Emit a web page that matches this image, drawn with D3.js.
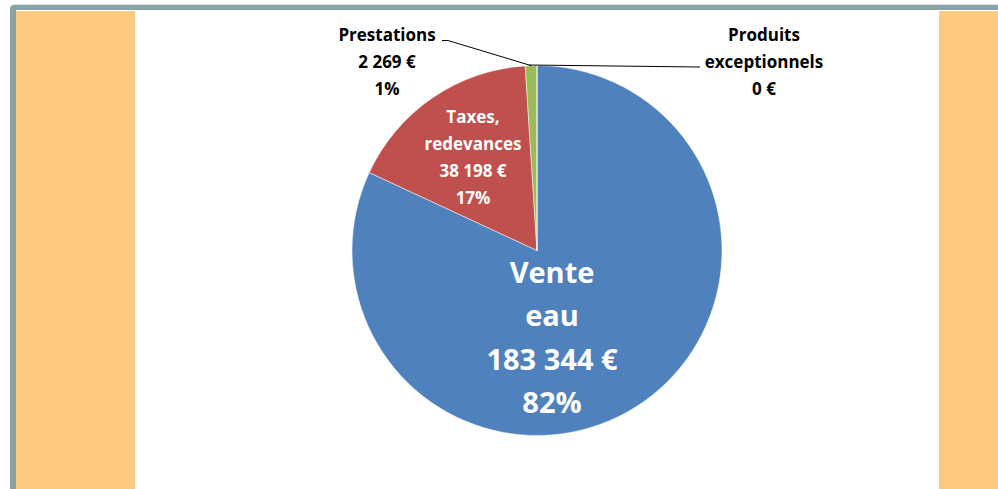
<!DOCTYPE html>
<html>
<head>
<meta charset="utf-8">
<script src="https://cdn.jsdelivr.net/npm/d3@7"></script>
<style>
  html, body { margin: 0; padding: 0; background: #fff; }
  svg { display: block; font-family: "Open Sans", sans-serif; }
</style>
</head>
<body>
<svg id="chart"></svg>
<script>
// Chart data
var categories = ["Vente eau", "Taxes, redevances", "Prestations", "Produits exceptionnels"];
var amounts = [183344, 38198, 2269, 0];
var amountLabels = ["183 344 €", "38 198 €", "2 269 €", "0 €"];
var percentLabels = ["82%", "17%", "1%", ""];

// Label text lines per slice
var labelLines = [
    ["Vente", "eau", amountLabels[0], percentLabels[0]],
    ["Taxes,", "redevances", amountLabels[1], percentLabels[1]],
    ["Prestations", amountLabels[2], percentLabels[2]],
    ["Produits", "exceptionnels", amountLabels[3]]
];

function CreatePieChart() {
    var svgWidth = 998;
    var svgHeight = 489;
    var cx = 537, cy = 250.5, radius = 185;

    var svg = d3.select('#chart')
        .attr('width', svgWidth)
        .attr('height', svgHeight);

    // Background panels and frame
    svg.append('rect')
        .attr('x', 135).attr('y', 10)
        .attr('width', 804).attr('height', svgHeight - 10)
        .attr('fill', '#ffffff');
    svg.append('rect')
        .attr('x', 16).attr('y', 11)
        .attr('width', 119).attr('height', svgHeight - 11)
        .attr('fill', '#fec981');
    svg.append('rect')
        .attr('x', 939).attr('y', 11)
        .attr('width', svgWidth - 939).attr('height', svgHeight - 11)
        .attr('fill', '#fec981');
    svg.append('path')
        .attr('d', 'M10,' + svgHeight + ' V9 Q10,5 14,5 H' + svgWidth + ' V10 H16 V' + svgHeight + ' Z')
        .attr('fill', '#89a3a5');
    svg.append('line')
        .attr('x1', 13).attr('x2', svgWidth)
        .attr('y1', 4.5).attr('y2', 4.5)
        .attr('stroke', '#dde3e4').attr('stroke-width', 1);

    var colors = d3.scaleOrdinal()
        .domain(categories)
        .range(['#4f81bd', '#c0504d', '#9bbb59', '#8064a2']);

    var pie = d3.pie().sort(null).value(function(d) { return d; });
    var arcs = pie(amounts);
    var arc = d3.arc().innerRadius(0).outerRadius(radius);

    var chartG = svg.append('g')
        .attr('transform', 'translate(' + [cx, cy] + ')');

    chartG.selectAll('.slice')
        .data(arcs)
        .enter()
        .append('path')
        .attr('class', 'slice')
        .attr('d', arc)
        .attr('fill', function(d, i) { return colors(categories[i]); })
        .attr('stroke', '#ffffff')
        .attr('stroke-width', 0.5);

    // Point on the rim at a given angle
    function rim(a, r) {
        return [Math.sin(a) * r, -Math.cos(a) * r];
    }

    // Label layout: offsets from pie centre, line spacing, font size, colour
    var labelLayout = [
        {dx: 15, dy: 32, lh: 43.5, size: 29, fill: '#ffffff'},
        {dx: -64, dy: -128, lh: 27, size: 17, fill: '#ffffff'},
        {dx: -150, dy: -210, lh: 27, size: 17, fill: '#000000'},
        {dx: 227, dy: -210, lh: 27, size: 17, fill: '#000000'}
    ];

    labelLines.forEach(function(lines, i) {
        var lay = labelLayout[i];
        var t = chartG.append('text')
            .attr('text-anchor', 'middle')
            .attr('font-weight', 'bold')
            .attr('font-size', lay.size + 'px')
            .attr('fill', lay.fill);
        lines.forEach(function(line, j) {
            t.append('tspan')
                .attr('x', lay.dx)
                .attr('y', lay.dy + j * lay.lh)
                .text(line);
        });
    });

    // Leader lines for the small outside slices
    var pMid = (arcs[2].startAngle + arcs[2].endAngle) / 2;
    var pEnd = rim(pMid, radius);
    chartG.append('polyline')
        .attr('points', [[-95, -210], [-89, -210], pEnd].map(function(p) { return p.join(','); }).join(' '))
        .attr('fill', 'none')
        .attr('stroke', '#000000')
        .attr('stroke-width', 1);

    var zEnd = rim(arcs[3].startAngle, radius);
    chartG.append('polyline')
        .attr('points', [[zEnd[0] - 8, zEnd[1] - 0.5], [163, -183.5]].map(function(p) { return p.join(','); }).join(' '))
        .attr('fill', 'none')
        .attr('stroke', '#000000')
        .attr('stroke-width', 1);
}

CreatePieChart();
</script>
</body>
</html>
